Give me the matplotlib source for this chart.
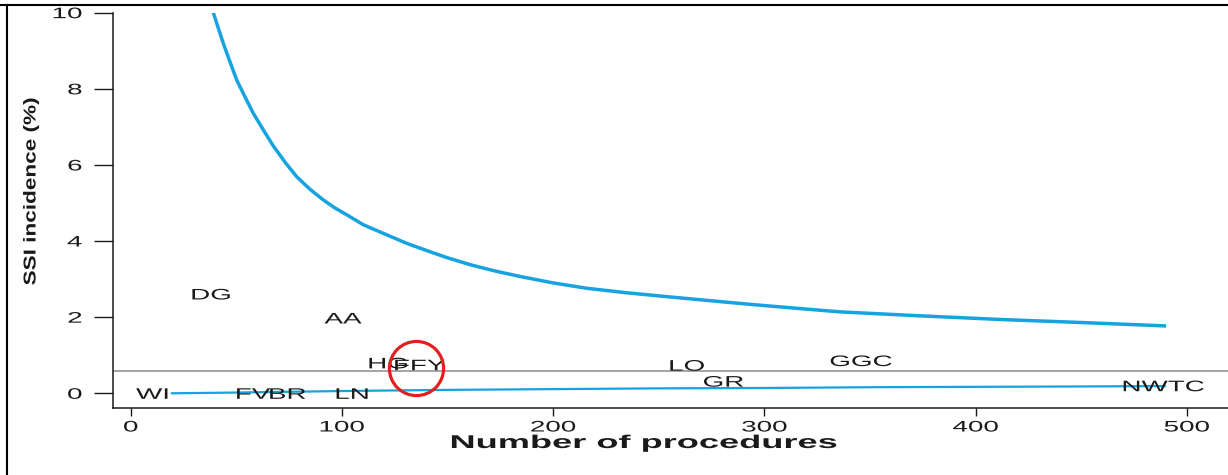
import matplotlib
matplotlib.use("Agg")
import matplotlib.pyplot as plt
from matplotlib.patheffects import AbstractPathEffect
from matplotlib.transforms import Affine2D
from matplotlib.lines import Line2D

# Hospitals: number of procedures and SSI incidence (%)
hospitals = ["WI", "DG", "FV", "BR", "AA", "LN", "HG", "FFY", "LO", "GR", "GGC", "NWTC"]
procedures = [10.3, 38.0, 57.9, 74.2, 100.5, 104.8, 121.8, 136.7, 263.3, 280.6, 345.7, 488.9]
incidence = [0.0, 2.61, 0.0, 0.0, 1.98, 0.0, 0.80, 0.75, 0.74, 0.32, 0.86, 0.20]

# Overall SSI incidence (%)
overall_rate = 0.59

# Upper control limit of the funnel
upper_n = [39.1, 41.5, 43.8, 47.0, 50.2, 54.1, 58.0, 62.8, 67.5, 73.1, 78.6,
           84.9, 91.2, 96.7, 102.3, 110.1, 118.0, 130.7, 141.7, 150.0, 160.7,
           172.0, 184.3, 200.0, 215.9, 235.0, 253.8, 275.0, 294.8, 315.0,
           335.8, 372.0, 411.6, 450.0, 490.2]
upper_pct = [10.0, 9.59, 9.20, 8.71, 8.23, 7.79, 7.36, 6.92, 6.50, 6.07, 5.69,
             5.36, 5.08, 4.87, 4.69, 4.43, 4.24, 3.94, 3.72, 3.56, 3.38,
             3.22, 3.07, 2.90, 2.76, 2.64, 2.54, 2.43, 2.33, 2.235,
             2.14, 2.04, 1.94, 1.86, 1.77]

# Lower control limit of the funnel
lower_n = [19, 50, 100, 150, 200, 250, 300, 350, 400, 450, 490]
lower_pct = [0.0, 0.02, 0.06, 0.09, 0.11, 0.13, 0.14, 0.16, 0.17, 0.18, 0.19]

# Circled hospital
highlight_n = [135.1]
highlight_pct = [0.66]

x_ticks = [0, 100, 200, 300, 400, 500]
y_ticks = [0, 2, 4, 6, 8, 10]

FONT = "Liberation Sans"
BLUE = "#16a3e0"
INK = "#1a1a1a"
WIDE = 1.82


class Widen(AbstractPathEffect):
    """Fill glyph outlines scaled along the text baseline."""

    def __init__(self, factor, anchor="center"):
        super().__init__()
        self.factor = factor
        self.anchor = anchor

    def draw_path(self, renderer, gc, tpath, affine, rgbFace=None):
        ext = tpath.get_extents()
        if self.anchor == "left":
            x0 = ext.x0
        elif self.anchor == "right":
            x0 = ext.x1
        else:
            x0 = 0.5 * (ext.x0 + ext.x1)
        t = Affine2D().translate(-x0, 0).scale(self.factor, 1.0).translate(x0, 0) + affine
        renderer.draw_path(gc, tpath, t, rgbFace)


W, H = 1228, 475
fig = plt.figure(figsize=(W / 100, H / 100), dpi=100)
fig.patch.set_facecolor("white")

ax = fig.add_axes([113 / W, 1 - 408 / H, (W - 113) / W, (408 - 12.7) / H])
ax.set_xlim(-8.38, 519.5)
ax.set_ylim(-0.386, 10.0)

for side in ("top", "right"):
    ax.spines[side].set_visible(False)
for side in ("left", "bottom"):
    ax.spines[side].set_linewidth(1.1)
    ax.spines[side].set_color(INK)

# Funnel limits and overall rate
ax.axhline(overall_rate, color="#8c8c8c", lw=1.1, zorder=2)
ax.plot(upper_n, upper_pct, color=BLUE, lw=2.5, solid_capstyle="butt",
        solid_joinstyle="round", zorder=3)
ax.plot(lower_n, lower_pct, color=BLUE, lw=1.6, solid_capstyle="butt", zorder=3)

# Hospital codes at their positions
for name, n, p in zip(hospitals, procedures, incidence):
    ax.text(n, p, name, ha="center", va="center_baseline", fontsize=11,
            family=FONT, color=INK, zorder=4, path_effects=[Widen(WIDE)])

# Highlight ring
ax.plot(highlight_n, highlight_pct, "o", ms=39, mfc="none", mec="#e3201f",
        mew=2.3, zorder=5, clip_on=False)

# Axes ticks
ax.set_xticks(x_ticks)
ax.set_yticks(y_ticks)
ax.set_xticklabels([str(v) for v in x_ticks])
ax.set_yticklabels([str(v) for v in y_ticks])
ax.tick_params(axis="x", direction="out", length=5.8, width=1.0, pad=3.2,
               color=INK, labelcolor=INK)
ax.tick_params(axis="y", direction="out", length=13.7, width=1.0, pad=8.6,
               color=INK, labelcolor=INK)
for t in ax.xaxis.get_major_ticks():
    t.label1.set_fontfamily(FONT)
    t.label1.set_fontsize(11)
    t.label1.set_path_effects([Widen(WIDE, "center")])
for t in ax.yaxis.get_major_ticks():
    t.label1.set_fontfamily(FONT)
    t.label1.set_fontsize(11)
    t.label1.set_path_effects([Widen(WIDE, "right")])

# Axis titles
fig.text(644 / W, 1 - 448 / H, "Number of procedures", ha="center", va="baseline",
         fontsize=13.3, fontweight="bold", family=FONT, color=INK,
         path_effects=[Widen(1.96)])
fig.text(31 / W, 1 - 191.5 / H, "SSI incidence (%)", ha="center", va="center",
         rotation=90, fontsize=12.4, fontweight="bold", family=FONT, color=INK,
         path_effects=[Widen(1.31)])

# Frame lines around the panel
fig.add_artist(Line2D([0, 1], [1 - 5 / H, 1 - 5 / H], transform=fig.transFigure,
                      color="black", lw=1.5))
fig.add_artist(Line2D([7 / W, 7 / W], [0, 1 - 5 / H], transform=fig.transFigure,
                      color="black", lw=1.5))

fig.savefig("out.png", dpi=100, facecolor="white")
